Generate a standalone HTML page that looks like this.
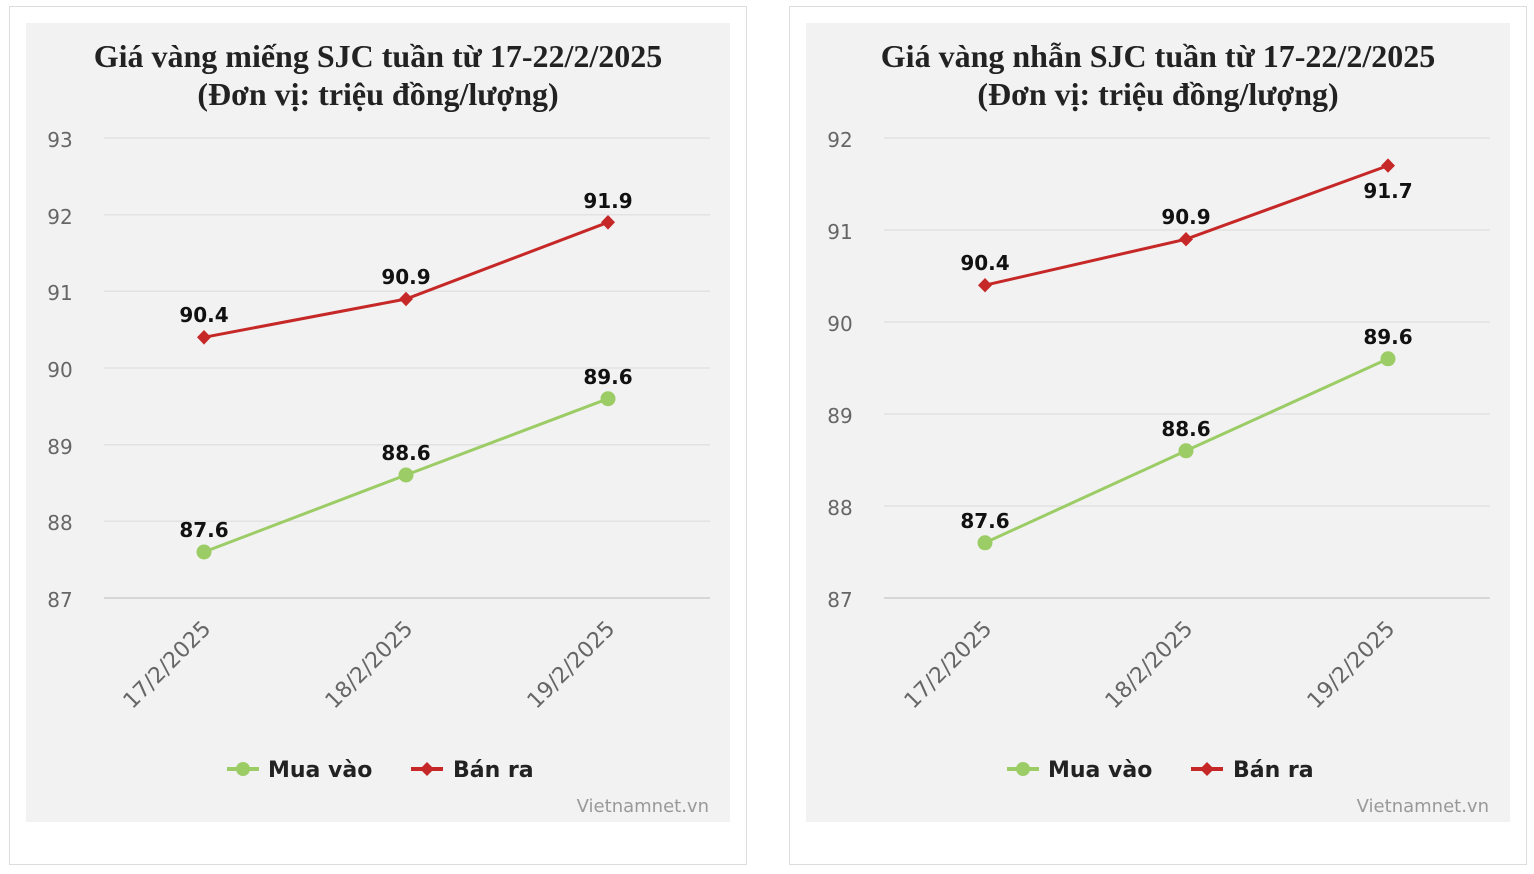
<!DOCTYPE html>
<html><head><meta charset="utf-8"><style>
html,body{margin:0;padding:0;background:#fff;width:1534px;height:874px;overflow:hidden}
text{font-family:"DejaVu Sans","Liberation Sans",sans-serif}
.t{font-family:"Liberation Serif",serif;font-weight:bold;font-size:32px;fill:#222;text-anchor:middle}
.ax{font-size:20px;fill:#666;text-anchor:middle}
.xl{font-size:22px;fill:#666;text-anchor:end}
.dl{font-size:20px;font-weight:bold;fill:#111;text-anchor:middle}
.lg{font-size:22px;font-weight:bold;fill:#222}
.wm{font-size:18px;fill:#999;text-anchor:end}
.g{stroke:#e2e2e2;stroke-width:1.5}
</style></head><body>
<svg width="1534" height="874" xmlns="http://www.w3.org/2000/svg">
<rect x="9.5" y="6.5" width="737" height="858" fill="#fff" stroke="#ddd"/>
<rect x="789.5" y="6.5" width="737" height="858" fill="#fff" stroke="#ddd"/>
<rect x="26" y="23" width="704" height="799" fill="#f2f2f2"/>
<rect x="806" y="23" width="704" height="799" fill="#f2f2f2"/>

<!-- LEFT -->
<text class="t" x="378" y="67">Giá vàng miếng SJC tuần từ 17-22/2/2025</text>
<text class="t" x="378" y="105">(Đơn vị: triệu đồng/lượng)</text>
<g>
<line class="g" x1="104" x2="710" y1="138" y2="138"/>
<line class="g" x1="104" x2="710" y1="214.7" y2="214.7"/>
<line class="g" x1="104" x2="710" y1="291.3" y2="291.3"/>
<line class="g" x1="104" x2="710" y1="368" y2="368"/>
<line class="g" x1="104" x2="710" y1="444.7" y2="444.7"/>
<line class="g" x1="104" x2="710" y1="521.3" y2="521.3"/>
<line x1="104" x2="710" y1="598" y2="598" stroke="#ccc" stroke-width="1.5"/>
</g>
<text class="ax" x="60" y="147">93</text>
<text class="ax" x="60" y="224">92</text>
<text class="ax" x="60" y="300">91</text>
<text class="ax" x="60" y="377">90</text>
<text class="ax" x="60" y="454">89</text>
<text class="ax" x="60" y="530">88</text>
<text class="ax" x="60" y="607">87</text>
<text class="xl" transform="translate(212,630) rotate(-45)">17/2/2025</text>
<text class="xl" transform="translate(414,630) rotate(-45)">18/2/2025</text>
<text class="xl" transform="translate(616,630) rotate(-45)">19/2/2025</text>
<polyline points="204,337.3 406,299 608,222.3" fill="none" stroke="#c62828" stroke-width="3"/>
<polyline points="204,552 406,475 608,398.7" fill="none" stroke="#9ccc65" stroke-width="3"/>
<g fill="#c62828"><path d="M204 330l7 7.3-7 7.3-7-7.3z"/><path d="M406 291.7l7 7.3-7 7.3-7-7.3z"/><path d="M608 215l7 7.3-7 7.3-7-7.3z"/></g>
<g fill="#9ccc65"><circle cx="204" cy="552" r="7.5"/><circle cx="406" cy="475" r="7.5"/><circle cx="608" cy="398.7" r="7.5"/></g>
<text class="dl" x="204" y="322">90.4</text>
<text class="dl" x="406" y="284">90.9</text>
<text class="dl" x="608" y="208">91.9</text>
<text class="dl" x="204" y="537">87.6</text>
<text class="dl" x="406" y="460">88.6</text>
<text class="dl" x="608" y="384">89.6</text>
<line x1="227" x2="259" y1="769" y2="769" stroke="#9ccc65" stroke-width="4"/><circle cx="243" cy="769" r="7" fill="#9ccc65"/>
<text class="lg" x="268" y="777">Mua vào</text>
<line x1="411" x2="443" y1="769" y2="769" stroke="#c62828" stroke-width="4"/><path d="M427 762l7 7-7 7-7-7z" fill="#c62828"/>
<text class="lg" x="453" y="777">Bán ra</text>
<text class="wm" x="709" y="812">Vietnamnet.vn</text>

<!-- RIGHT -->
<text class="t" x="1158" y="67">Giá vàng nhẫn SJC tuần từ 17-22/2/2025</text>
<text class="t" x="1158" y="105">(Đơn vị: triệu đồng/lượng)</text>
<g>
<line class="g" x1="884" x2="1490" y1="138" y2="138"/>
<line class="g" x1="884" x2="1490" y1="230" y2="230"/>
<line class="g" x1="884" x2="1490" y1="322" y2="322"/>
<line class="g" x1="884" x2="1490" y1="414" y2="414"/>
<line class="g" x1="884" x2="1490" y1="506" y2="506"/>
<line x1="884" x2="1490" y1="598" y2="598" stroke="#ccc" stroke-width="1.5"/>
</g>
<text class="ax" x="840" y="147">92</text>
<text class="ax" x="840" y="239">91</text>
<text class="ax" x="840" y="331">90</text>
<text class="ax" x="840" y="423">89</text>
<text class="ax" x="840" y="515">88</text>
<text class="ax" x="840" y="607">87</text>
<text class="xl" transform="translate(993,630) rotate(-45)">17/2/2025</text>
<text class="xl" transform="translate(1194,630) rotate(-45)">18/2/2025</text>
<text class="xl" transform="translate(1396,630) rotate(-45)">19/2/2025</text>
<polyline points="985,285.2 1186,239.2 1388,165.6" fill="none" stroke="#c62828" stroke-width="3"/>
<polyline points="985,542.8 1186,450.8 1388,358.8" fill="none" stroke="#9ccc65" stroke-width="3"/>
<g fill="#c62828"><path d="M985 278l7 7.2-7 7.2-7-7.2z"/><path d="M1186 232l7 7.2-7 7.2-7-7.2z"/><path d="M1388 158.4l7 7.2-7 7.2-7-7.2z"/></g>
<g fill="#9ccc65"><circle cx="985" cy="542.8" r="7.5"/><circle cx="1186" cy="450.8" r="7.5"/><circle cx="1388" cy="358.8" r="7.5"/></g>
<text class="dl" x="985" y="270">90.4</text>
<text class="dl" x="1186" y="224">90.9</text>
<text class="dl" x="1388" y="198">91.7</text>
<text class="dl" x="985" y="528">87.6</text>
<text class="dl" x="1186" y="436">88.6</text>
<text class="dl" x="1388" y="344">89.6</text>
<line x1="1007" x2="1039" y1="769" y2="769" stroke="#9ccc65" stroke-width="4"/><circle cx="1023" cy="769" r="7" fill="#9ccc65"/>
<text class="lg" x="1048" y="777">Mua vào</text>
<line x1="1191" x2="1223" y1="769" y2="769" stroke="#c62828" stroke-width="4"/><path d="M1207 762l7 7-7 7-7-7z" fill="#c62828"/>
<text class="lg" x="1233" y="777">Bán ra</text>
<text class="wm" x="1489" y="812">Vietnamnet.vn</text>
</svg>
</body></html>
